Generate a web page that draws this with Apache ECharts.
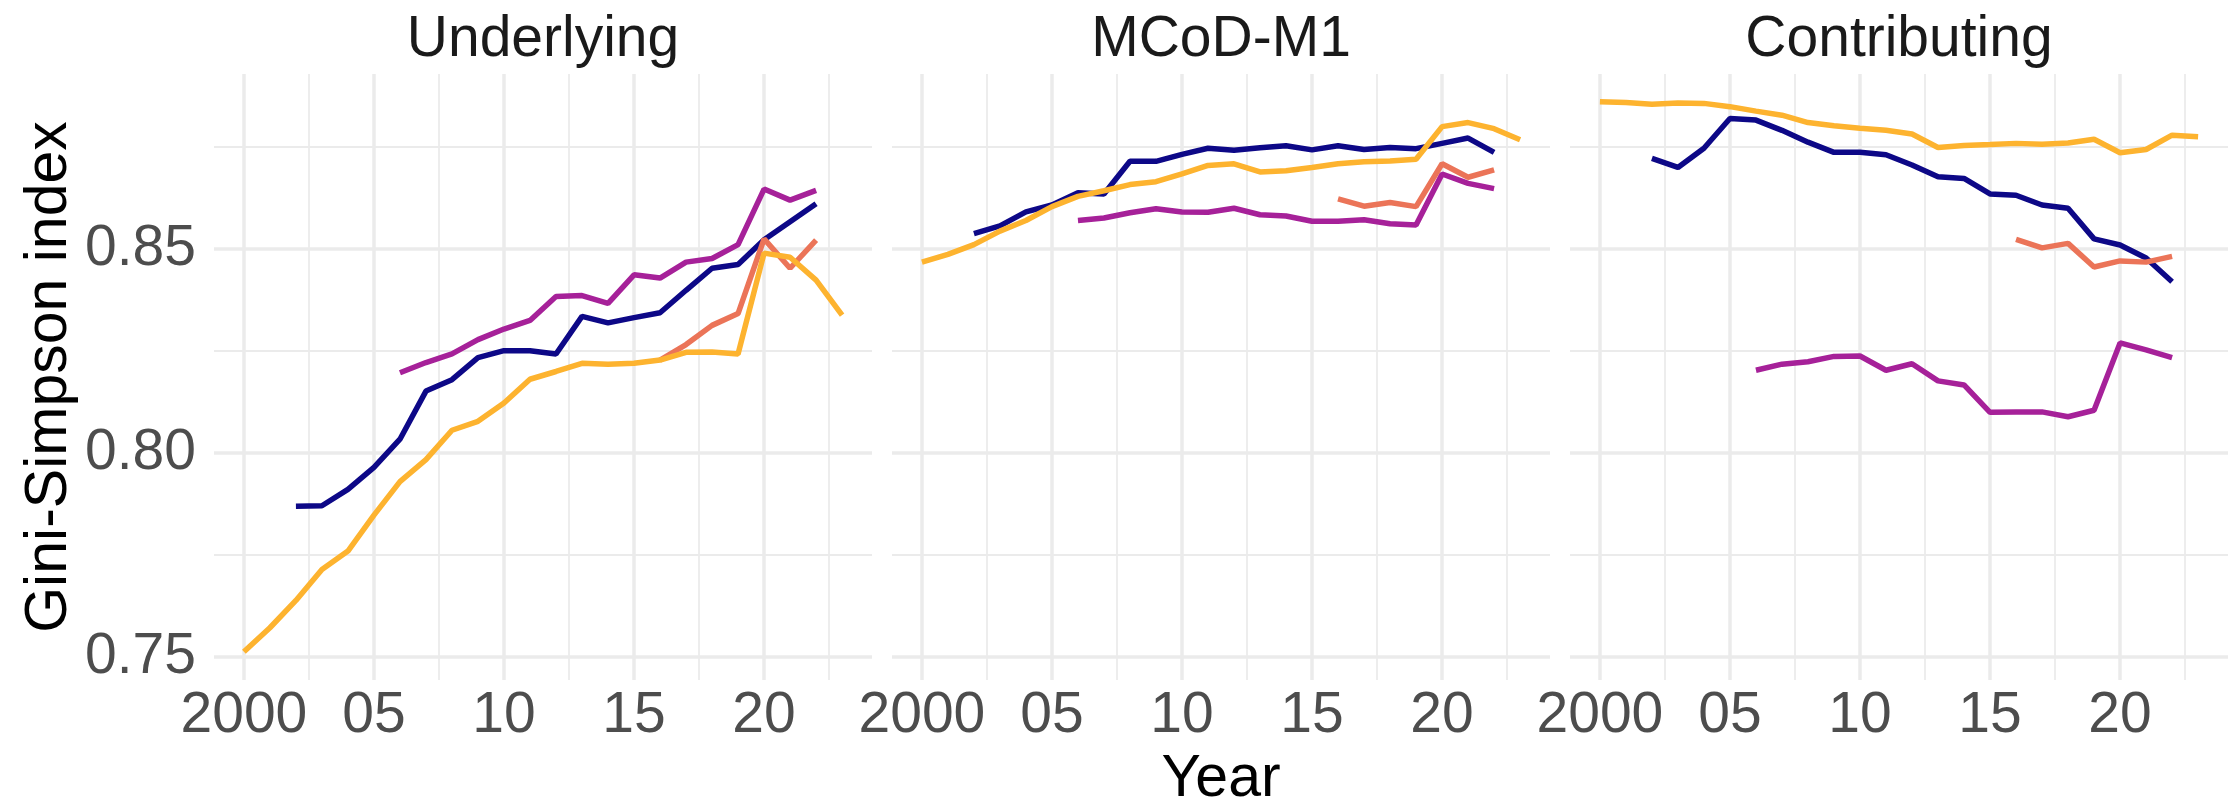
<!DOCTYPE html>
<html>
<head>
<meta charset="utf-8">
<script src="https://cdn.jsdelivr.net/npm/echarts@6/dist/echarts.min.js"></script>
<style>
  html, body { margin: 0; padding: 0; background: #fff; }
  #chart { width: 2228px; height: 808px; }
</style>
</head>
<body>
<div id="chart"></div>
<script>
// years on the x axis
var years = [2000, 2001, 2002, 2003, 2004, 2005, 2006, 2007, 2008, 2009, 2010, 2011,
             2012, 2013, 2014, 2015, 2016, 2017, 2018, 2019, 2020, 2021, 2022, 2023];
var panelTitles = ['Underlying', 'MCoD-M1', 'Contributing'];
var seriesNames = ['A', 'B', 'C', 'D'];
var seriesColors = ['#0D0887', '#A62199', '#EB7458', '#FDB32F'];

// tick labels
var xTicks = [2000, 2005, 2010, 2015, 2020];
var xTickLabels = ['2000', '05', '10', '15', '20'];
var xMinorTicks = [2002.5, 2007.5, 2012.5, 2017.5, 2022.5];
var yTicks = [0.75, 0.80, 0.85];
var yMinorTicks = [0.775, 0.825, 0.875];

// Underlying
var underlyingA = [null, null, 0.7870, 0.7871, 0.7911, 0.7965, 0.8034, 0.8152, 0.8180, 0.8234, 0.8251, 0.8251,
                   0.8243, 0.8335, 0.8319, 0.8332, 0.8344, 0.8399, 0.8453, 0.8462, 0.8523, 0.8567, 0.8611, null];
var underlyingB = [null, null, null, null, null, null, 0.8197, 0.8222, 0.8243, 0.8278, 0.8304, 0.8325,
                   0.8384, 0.8386, 0.8367, 0.8437, 0.8429, 0.8468, 0.8477, 0.8511, 0.8647, 0.8620, 0.8644, null];
var underlyingC = [null, null, null, null, null, null, null, null, null, null, null, null,
                   null, null, null, null, 0.8228, 0.8266, 0.8313, 0.8342, 0.8525, 0.8453, 0.8522, null];
var underlyingD = [0.7513, 0.7572, 0.7639, 0.7715, 0.7760, 0.7848, 0.7930, 0.7984, 0.8056, 0.8078, 0.8123, 0.8181,
                   0.8200, 0.8220, 0.8218, 0.8220, 0.8228, 0.8247, 0.8248, 0.8243, 0.8490, 0.8480, 0.8424, 0.8338];

// MCoD-M1
var mcodA = [null, null, 0.8538, 0.8557, 0.8591, 0.8608, 0.8638, 0.8635, 0.8715, 0.8715, 0.8732, 0.8747,
             0.8742, 0.8748, 0.8753, 0.8743, 0.8753, 0.8744, 0.8749, 0.8746, 0.8759, 0.8772, 0.8737, null];
var mcodB = [null, null, null, null, null, null, 0.8570, 0.8576, 0.8589, 0.8599, 0.8591, 0.8590,
             0.8600, 0.8584, 0.8581, 0.8568, 0.8568, 0.8572, 0.8562, 0.8559, 0.8684, 0.8661, 0.8648, null];
var mcodC = [null, null, null, null, null, null, null, null, null, null, null, null,
             null, null, null, null, 0.8623, 0.8605, 0.8614, 0.8604, 0.8709, 0.8676, 0.8694, null];
var mcodD = [0.8468, 0.8487, 0.8511, 0.8544, 0.8570, 0.8604, 0.8629, 0.8643, 0.8658, 0.8665, 0.8684, 0.8705,
             0.8709, 0.8689, 0.8692, 0.8700, 0.8709, 0.8714, 0.8716, 0.8720, 0.8800, 0.8810, 0.8795, 0.8768];

// Contributing
var contribA = [null, null, 0.8722, 0.8700, 0.8747, 0.8820, 0.8816, 0.8791, 0.8762, 0.8737, 0.8737, 0.8731,
                0.8706, 0.8677, 0.8673, 0.8635, 0.8632, 0.8608, 0.8600, 0.8525, 0.8510, 0.8478, 0.8420, null];
var contribB = [null, null, null, null, null, null, 0.8203, 0.8218, 0.8224, 0.8237, 0.8238, 0.8203,
                0.8219, 0.8177, 0.8167, 0.8100, 0.8101, 0.8101, 0.8089, 0.8105, 0.8270, 0.8253, 0.8234, null];
var contribC = [null, null, null, null, null, null, null, null, null, null, null, null,
                null, null, null, null, 0.8524, 0.8503, 0.8514, 0.8456, 0.8471, 0.8468, 0.8482, null];
var contribD = [0.8861, 0.8859, 0.8855, 0.8858, 0.8857, 0.8849, 0.8838, 0.8828, 0.8810, 0.8802, 0.8796, 0.8791,
                0.8782, 0.8749, 0.8754, 0.8756, 0.8759, 0.8757, 0.8760, 0.8769, 0.8736, 0.8744, 0.8779, 0.8775];

var panelData = [
    [underlyingA, underlyingB, underlyingC, underlyingD],
    [mcodA, mcodB, mcodC, mcodD],
    [contribA, contribB, contribC, contribD]
];

var font = "'Liberation Sans', Arial, sans-serif";
var gridColor = '#EBEBEB';
var xMin = 1998.85, xMax = 2024.15;
var yMin = 0.7444, yMax = 0.8929;
var panelLeft = [214, 892, 1570];
var panelWidth = 658;

function pairs(values) {
    var out = [];
    for (var i = 0; i < years.length; i++) {
        if (values[i] != null) out.push([years[i], values[i]]);
    }
    return out;
}

var grids = [], xAxes = [], yAxes = [], series = [], titles = [];

for (var p = 0; p < 3; p++) {
    grids.push({ left: panelLeft[p], top: 74, width: panelWidth, height: 606, containLabel: false });

    // major x grid + labels
    xAxes.push({
        type: 'value', gridIndex: p, min: xMin, max: xMax,
        axisLine: { show: false },
        axisTick: { show: false, customValues: xTicks },
        axisLabel: {
            customValues: xTicks, margin: 8,
            fontFamily: font, fontSize: 57, color: '#4D4D4D',
            formatter: function (v) { return xTickLabels[xTicks.indexOf(v)]; }
        },
        splitLine: { show: true, lineStyle: { color: gridColor, width: 3.5 } }
    });
    // minor x grid
    xAxes.push({
        type: 'value', gridIndex: p, min: xMin, max: xMax,
        axisLine: { show: false },
        axisTick: { show: false, customValues: xMinorTicks },
        axisLabel: { show: false, customValues: xMinorTicks },
        splitLine: { show: true, lineStyle: { color: gridColor, width: 1.8 } }
    });
    // major y grid + labels
    yAxes.push({
        type: 'value', gridIndex: p, min: yMin, max: yMax,
        axisLine: { show: false },
        axisTick: { show: false, customValues: yTicks },
        axisLabel: {
            show: p === 0, customValues: yTicks, margin: 18,
            fontFamily: font, fontSize: 57, color: '#4D4D4D',
            formatter: function (v) { return v.toFixed(2); }
        },
        splitLine: { show: true, lineStyle: { color: gridColor, width: 3.5 } },
        name: p === 0 ? 'Gini-Simpson index' : '',
        nameLocation: 'middle', nameRotate: 90, nameGap: 135,
        nameTextStyle: { fontFamily: font, fontSize: 59, color: '#000' }
    });
    // minor y grid
    yAxes.push({
        type: 'value', gridIndex: p, min: yMin, max: yMax,
        axisLine: { show: false },
        axisTick: { show: false, customValues: yMinorTicks },
        axisLabel: { show: false, customValues: yMinorTicks },
        splitLine: { show: true, lineStyle: { color: gridColor, width: 1.8 } }
    });

    titles.push({
        text: panelTitles[p],
        left: panelLeft[p] + panelWidth / 2, top: 12, textAlign: 'center', padding: 0,
        textStyle: { fontFamily: font, fontSize: 57, fontWeight: 'normal', color: '#1A1A1A', lineHeight: 57 }
    });

    for (var s = 0; s < 4; s++) {
        series.push({
            name: seriesNames[s], type: 'line',
            xAxisIndex: p * 2, yAxisIndex: p * 2,
            data: pairs(panelData[p][s]),
            showSymbol: false, symbol: 'none', silent: true, animation: false,
            lineStyle: { color: seriesColors[s], width: 5.5 },
            itemStyle: { color: seriesColors[s] }
        });
    }
}

titles.push({
    text: 'Year', left: panelLeft[1] + panelWidth / 2, top: 751, textAlign: 'center', padding: 0,
    textStyle: { fontFamily: font, fontSize: 59, fontWeight: 'normal', color: '#000', lineHeight: 57 }
});

var myChart = echarts.init(document.getElementById('chart'));
myChart.setOption({
    backgroundColor: '#fff',
    animation: false,
    title: titles,
    grid: grids,
    xAxis: xAxes,
    yAxis: yAxes,
    series: series
});
</script>
</body>
</html>
